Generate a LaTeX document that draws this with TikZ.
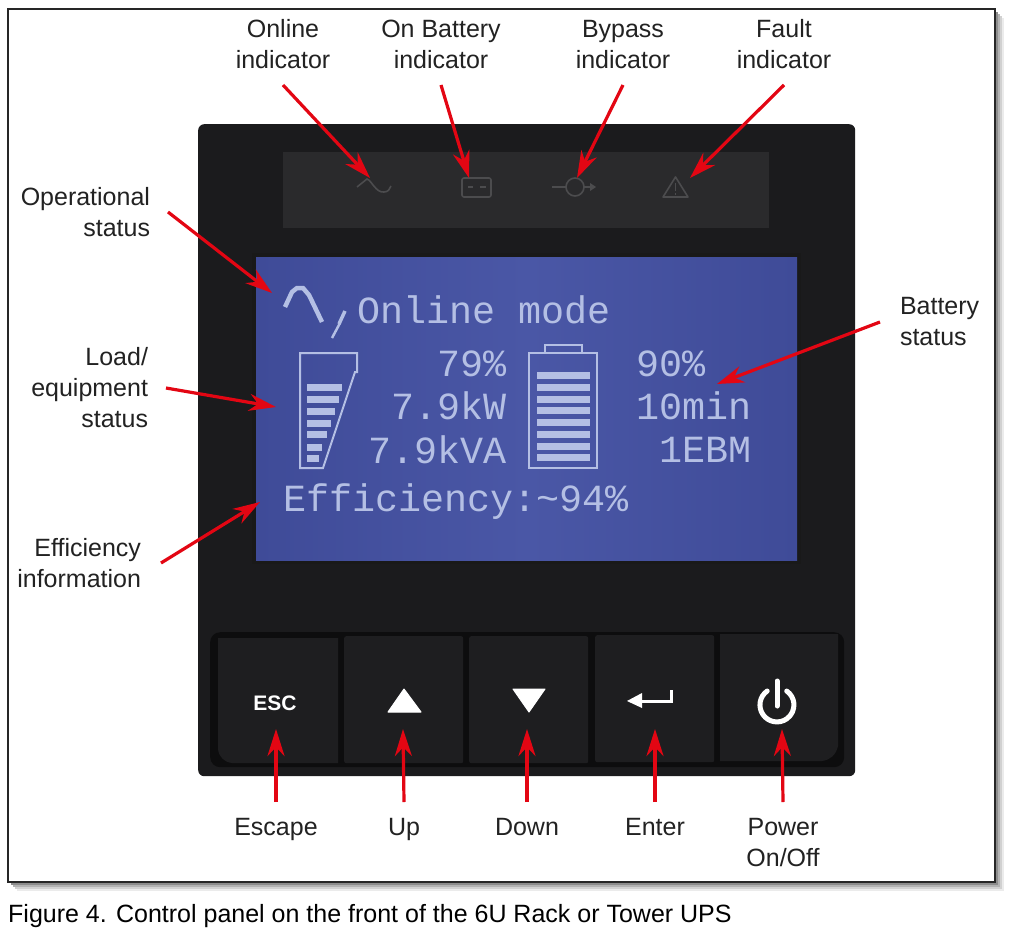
\documentclass[tikz,border=0pt]{standalone}
\usepackage{fontspec}
\setmainfont{Liberation Sans}
\newfontfamily\lcdfont{Liberation Mono}
\usetikzlibrary{arrows.meta}
\definecolor{panelc}{HTML}{1B1B1D}
\definecolor{stripc}{HTML}{2A2A2C}
\definecolor{wellc}{HTML}{0D0D0E}
\definecolor{btnc}{HTML}{1E1E20}
\definecolor{lcdc}{HTML}{4A57A6}
\definecolor{lcdd}{HTML}{3F4B98}
\definecolor{seg}{HTML}{B4BFE4}
\definecolor{icon}{HTML}{4C4C4E}
\definecolor{redc}{HTML}{E30613}
\definecolor{labelc}{HTML}{222222}
\tikzset{
  lbl/.style={font=\fontsize{25}{31}\selectfont,text=labelc,align=center,inner sep=0pt},
  callout/.style={draw=redc,line width=3.2pt,-{Stealth[length=27pt,width=17pt]}},
  lcd/.style={font=\lcdfont\fontsize{38.4}{38.4}\selectfont,text=seg,inner sep=0pt},
  segline/.style={draw=seg,line width=2pt},
  segbar/.style={fill=seg,draw=none},
  btn/.style={fill=btnc,draw=none,rounded corners=2pt},
  iconline/.style={draw=icon,line width=1.6pt},
  glyph/.style={fill=white,draw=white,line join=round,line width=1pt}
}
\begin{document}
\begin{tikzpicture}[x=1pt,y=-1pt]
\useasboundingbox (0,0) rectangle (1017,937);
\fill[white] (0,0) rectangle (1017,937);
% frame with soft shadow
\foreach \o/\c in {10/8,8/18,6/30,4/45}{
  \fill[black!\c] (7+\o,8+\o) rectangle (994+\o,881+\o);
}
\node[draw=black!85,line width=1.8pt,fill=white,minimum width=987pt,minimum height=873pt,anchor=north west,inner sep=0pt] (frame) at (7,8) {};
% panel
\node[fill=panelc,rounded corners=6pt,minimum width=657pt,minimum height=652pt,anchor=north west,inner sep=0pt] (panel) at (198,124) {};
\node[fill=stripc,minimum width=486pt,minimum height=76pt,anchor=north west,inner sep=0pt] (strip) at (283,152) {};
\node[fill=black!90,minimum width=549pt,minimum height=311pt,anchor=north west,inner sep=0pt] (bezel) at (252,253) {};
\node[left color=lcdd,right color=lcdd,middle color=lcdc,minimum width=541pt,minimum height=303pt,anchor=north west,inner sep=0pt] (lcdscreen) at (256,257) {};
% indicator icons
\draw[iconline] (357,187) -- (367,179) .. controls (372,181) and (376,193) .. (384,192) .. controls (388,192) and (390,189) .. (391,186);
\draw[iconline,rounded corners=2pt] (462,178) rectangle (491,197);
\draw[iconline] (468,187) -- (473,187) (480,187) -- (486,187);
\draw[iconline] (575,187) circle (9);
\draw[iconline] (552,187) -- (566,187) (584,187) -- (590,187);
\fill[icon] (590,183) -- (596,187) -- (590,191) -- cycle;
\draw[iconline,line join=round] (675.5,177) -- (688,197) -- (663,197) -- cycle;
\draw[iconline] (675.5,183) -- (675.5,191) (675.5,193) -- (675.5,195);
% LCD graphics
\draw[seg,line width=4.5pt] (285,307) -- (292,292) -- (297,288) -- (303,288) -- (309,295) -- (322,322);
\draw[seg,line width=3.5pt] (345,311) -- (339,324);
\draw[seg,line width=2.5pt] (340,323) -- (332,338);
\draw[segline] (300,468) -- (300,353) -- (357,353) -- (357,372) -- (355,372) -- (323,468) -- cycle;
\foreach \y/\r in {387/342,399/339,411/335,423/331,434/327,447/322,458/319}{
  \fill[segbar] (307,\y-3.5) rectangle (\r,\y+3.5);
}
\draw[segline] (529,353) rectangle (597,468);
\draw[segline] (545,353) -- (545,345) -- (582,345) -- (582,353);
\foreach \y in {375,387,399,410,422,434,446,457}{
  \fill[segbar] (537,\y-3.5) rectangle (590,\y+3.5);
}
\node[lcd,anchor=west] (tmode) at (357,310) {Online mode};
\node[lcd,anchor=east] (tload) at (507,364) {79\%};
\node[lcd,anchor=east] (tkw) at (507,406) {7.9kW};
\node[lcd,anchor=east] (tkva) at (507,450) {7.9kVA};
\node[lcd,anchor=west] (tbat) at (636,364) {90\%};
\node[lcd,anchor=east] (tmin) at (752,406) {10min};
\node[lcd,anchor=east] (tebm) at (752,450) {1EBM};
\node[lcd,anchor=west] (teff) at (283,502) {Efficiency:\char"7E 94\%};
% buttons
\node[fill=wellc,rounded corners=10pt,minimum width=634pt,minimum height=135pt,anchor=north west,inner sep=0pt] (well) at (210,632) {};
\fill[btnc] (218,638) -- (338,638) -- (338,763) -- (232,763) .. controls (224,762) and (219,757) .. (218,749) -- cycle;
\node[btn,minimum width=119pt,minimum height=127pt,anchor=north west,inner sep=0pt] (bup) at (344,636) {};
\node[btn,minimum width=119pt,minimum height=127pt,anchor=north west,inner sep=0pt] (bdown) at (469,636) {};
\node[btn,minimum width=119pt,minimum height=127pt,anchor=north west,inner sep=0pt] (benter) at (595,635) {};
\fill[btnc] (720,634) -- (838,634) -- (838,746) .. controls (836,755) and (830,760) .. (822,761) -- (720,761) -- cycle;
\node[text=white,font=\bfseries\fontsize{21}{21}\selectfont,inner sep=0pt] (esc) at (275,703) {ESC};
\fill[glyph] (404,689) -- (421,712) -- (388,712) -- cycle;
\fill[glyph] (513,689) -- (545,689) -- (529,712) -- cycle;
\draw[draw=white,line width=3pt] (671,690) -- (671,701) -- (640,701);
\fill[white] (627,701) -- (642,693) -- (642,708) -- cycle;
\draw[draw=white,line width=5pt,line cap=round] (767.2,691) arc[start angle=235,end angle=-55,radius=17];
\draw[draw=white,line width=5pt,line cap=round] (777,681) -- (777,706);
% labels
\node[lbl,anchor=south,outer sep=16pt] (lOnline) at (283,85) {Online\\indicator};
\node[lbl,anchor=south,outer sep=16pt] (lBatt) at (441,85) {On Battery\\indicator};
\node[lbl,anchor=south,outer sep=16pt] (lBypass) at (623,85) {Bypass\\indicator};
\node[lbl,anchor=south,outer sep=16pt] (lFault) at (784,85) {Fault\\indicator};
\node[lbl,align=right,anchor=east,outer sep=18pt] (lOper) at (168,212) {Operational\\status};
\node[lbl,align=right,anchor=east,outer sep=18pt] (lLoad) at (166,388) {Load/\\equipment\\status};
\node[lbl,align=right,anchor=east,outer sep=20pt] (lEff) at (161,563) {Efficiency\\information};
\node[lbl,align=left,anchor=west,outer sep=20pt] (lBatS) at (880,322) {Battery\\status};
\node[lbl,anchor=north,outer sep=16pt] (lEsc) at (276,802) {Escape};
\node[lbl,anchor=north,outer sep=16pt] (lUp) at (404,802) {Up};
\node[lbl,anchor=north,outer sep=16pt] (lDown) at (527,802) {Down};
\node[lbl,anchor=north,outer sep=16pt] (lEnter) at (655,802) {Enter};
\node[lbl,anchor=north,outer sep=16pt] (lPower) at (783,802) {Power\\On/Off};
% targets
\coordinate (tOnline) at (370,178);
\coordinate (tBatt) at (469,178);
\coordinate (tBypass) at (577,178);
\coordinate (tFault) at (690,178);
\coordinate (tOper) at (272,293);
\coordinate (tLoad) at (276,407);
\coordinate (tEff) at (260,502);
\coordinate (tBatS) at (717,384);
\coordinate (tEsc) at (276,729);
\coordinate (tUp) at (403,729);
\coordinate (tDown) at (527,729);
\coordinate (tEnter) at (655,729);
\coordinate (tPower) at (782,729);
% callouts
\draw[callout] (lOnline.south) -- (tOnline);
\draw[callout] (lBatt.south) -- (tBatt);
\draw[callout] (lBypass.south) -- (tBypass);
\draw[callout] (lFault.south) -- (tFault);
\draw[callout] (lOper.east) -- (tOper);
\draw[callout] (lLoad.east) -- (tLoad);
\draw[callout] (lEff.east) -- (tEff);
\draw[callout] (lBatS.west) -- (tBatS);
\draw[callout] (lEsc.north) -- (tEsc);
\draw[callout] (lUp.north) -- (tUp);
\draw[callout] (lDown.north) -- (tDown);
\draw[callout] (lEnter.north) -- (tEnter);
\draw[callout] (lPower.north) -- (tPower);
% caption
\node[anchor=base west,inner sep=0pt,font=\fontsize{25}{28}\selectfont,text=black] (cap) at (8,922) {Figure 4. Control panel on the front of the 6U Rack or Tower UPS};
\end{tikzpicture}
\end{document}
